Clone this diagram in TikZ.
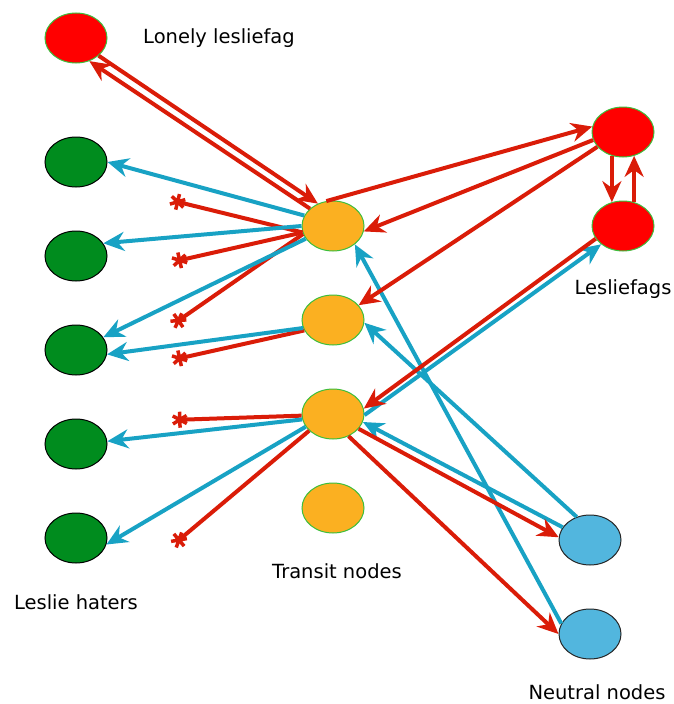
\documentclass[tikz,border=0pt]{standalone}
\usepackage{fontspec}
\setmainfont{DejaVu Sans}
\usetikzlibrary{arrows.meta,positioning,shapes.geometric}

\definecolor{hurtred}{RGB}{218,28,8}
\definecolor{helpblue}{RGB}{24,162,196}
\definecolor{haterfill}{RGB}{0,140,30}
\definecolor{fagfill}{RGB}{255,0,0}
\definecolor{transitfill}{RGB}{251,176,33}
\definecolor{neutralfill}{RGB}{82,182,222}
\definecolor{rimgreen}{RGB}{60,190,60}

\begin{document}
\begin{tikzpicture}[x=1pt,y=-1pt,node distance=94pt,on grid]
        \tikzset{every node/.style={font=\fontsize{19.5}{23}\selectfont},
            blob/.style={ellipse,minimum width=62pt,minimum height=50pt,inner sep=0pt,line width=1pt},
            hater/.style={blob,fill=haterfill,draw=black},
            fag/.style={blob,fill=fagfill,draw=rimgreen},
            transit/.style={blob,fill=transitfill,draw=rimgreen},
            neutral/.style={blob,fill=neutralfill,draw=black!85},
            hurt/.style={hurtred,line width=4pt,-{Stealth[length=21pt,width=19pt]}},
            help/.style={helpblue,line width=4pt,-{Stealth[length=21pt,width=19pt]}},
            blocked/.style={hurtred,line width=4pt,-{Rays[n=6,length=16pt,width=16pt,line width=3.5pt]}}}

        \useasboundingbox (0,0) rectangle (673,704);

        \node[fag]     (l)  at (76,38)  {};
        \node[hater]   (g1) at (76,162) {};
        \node[hater]   (g2) [below=of g1] {};
        \node[hater]   (g3) [below=of g2] {};
        \node[hater]   (g4) [below=of g3] {};
        \node[hater]   (g5) [below=of g4] {};

        \node[transit] (t1) at (333,226) {};
        \node[transit] (t2) [below=of t1] {};
        \node[transit] (t3) [below=of t2] {};
        \node[transit] (t4) [below=of t3] {};

        \node[fag]     (r1) at (623,132) {};
        \node[fag]     (r2) [below=of r1] {};

        \node[neutral] (b1) at (590,540) {};
        \node[neutral] (b2) [below=of b1] {};

        \node (lonely)  at (219,38)  {Lonely lesliefag};
        \node (haters)  at (76,602)  {Leslie haters};
        \node (transit) at (337,571) {Transit nodes};
        \node (fags)    at (623,289) {Lesliefags};
        \node (neutral) at (597,692) {Neutral nodes};

        \coordinate (x1) at (170,200);
        \coordinate (x2) at (172,262);
        \coordinate (x3) at (172,325);
        \coordinate (x4) at (172,360);
        \coordinate (x5) at (172,420);
        \coordinate (x6) at (173,545);

        % blocked ties
        \path[blocked]
            (t1.192) edge (x1)
            (t1.192) edge (x2)
            (t1.195) edge (x3)
            (t2.200) edge (x4)
            (t3.183) edge (x5)
            (t3.215) edge (x6)
        ;

        \path[help]
            (t1.160) edge (g1.east)
            (t1.180) edge (g2.25)
            (t1.205) edge (g3.25)
            (t2.195) edge (g3.-8)
            (t3.190) edge (g4.5)
            (t3.205) edge (g5.-12)

            (b1.155) edge (t3.-15)
            (b1.120) edge (t2.-5)
            (b2.160) edge (t1.-40)
            (t3.-2)  edge (r2.220)
        ;

        \path[hurt]
            (l.-38)  edge (t1.124)
            (t1.143) edge (l.-60)

            (t1.105) edge (r1.170)
            (r1.195) edge (t1.-10)
            (r1.210) edge (t2.30)

            (r1.-115) edge (r2.115)
            (r2.65)   edge (r1.-65)

            (r2.205) edge (t3.10)
            (t3.-30) edge (b1.175)
            (t3.-55) edge (b2.180)
        ;
    \end{tikzpicture}
\end{document}
